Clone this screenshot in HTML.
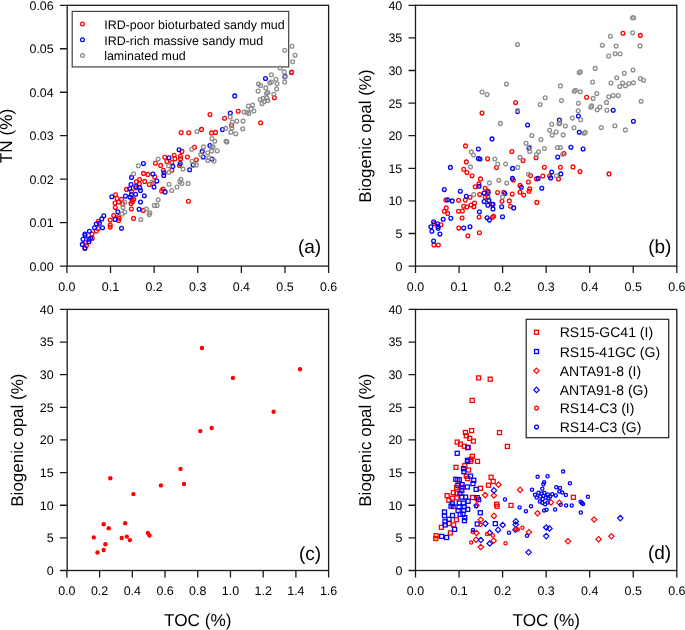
<!DOCTYPE html><html><head><meta charset="utf-8"><style>html,body{margin:0;padding:0;background:#fff;}svg{display:block;will-change:transform}text{font-family:"Liberation Sans", sans-serif;fill:#000;text-rendering:geometricPrecision} .tk{font-size:12.45px} .lab{font-size:17.2px} .pl{font-size:19.0px} .lg{font-size:12.45px} .lg2{font-size:14px}</style></head><body>
<svg width="685" height="630" viewBox="0 0 685 630">
<rect x="72.2" y="11.4" width="216.5" height="55.5" fill="none" stroke="#3a3a3a" stroke-width="1.15"/>
<circle cx="82.50" cy="23.90" r="1.9" fill="none" stroke="#ff0000" stroke-width="1.25"/>
<text x="104.20" y="28.60" class="lg">IRD-poor bioturbated sandy mud</text>
<circle cx="82.50" cy="39.80" r="1.9" fill="none" stroke="#0000ff" stroke-width="1.25"/>
<text x="104.20" y="44.50" class="lg">IRD-rich massive sandy mud</text>
<circle cx="82.50" cy="55.50" r="1.9" fill="none" stroke="#8c8c8c" stroke-width="1.25"/>
<text x="104.20" y="60.20" class="lg">laminated mud</text>
<rect x="526.2" y="319.3" width="142.5" height="118.4" fill="none" stroke="#222" stroke-width="1.2"/>
<rect x="534.50" y="330.30" width="4.0" height="4.0" fill="none" stroke="#ff0000" stroke-width="1.3"/>
<text x="559.70" y="337.30" class="lg2">RS15-GC41 (I)</text>
<rect x="534.50" y="349.50" width="4.0" height="4.0" fill="none" stroke="#0000ff" stroke-width="1.3"/>
<text x="559.70" y="356.50" class="lg2">RS15-41GC (G)</text>
<path d="M536.50 368.10L539.20 370.80L536.50 373.50L533.80 370.80Z" fill="none" stroke="#ff0000" stroke-width="1.2"/>
<text x="559.70" y="375.80" class="lg2">ANTA91-8 (I)</text>
<path d="M536.50 387.20L539.20 389.90L536.50 392.60L533.80 389.90Z" fill="none" stroke="#0000ff" stroke-width="1.2"/>
<text x="559.70" y="394.90" class="lg2">ANTA91-8 (G)</text>
<circle cx="536.50" cy="408.00" r="1.9" fill="none" stroke="#ff0000" stroke-width="1.3"/>
<text x="559.70" y="413.00" class="lg2">RS14-C3 (I)</text>
<circle cx="536.50" cy="427.10" r="1.9" fill="none" stroke="#0000ff" stroke-width="1.3"/>
<text x="559.70" y="432.10" class="lg2">RS14-C3 (G)</text>
<circle cx="98.30" cy="221.20" r="1.9" fill="none" stroke="#ff0000" stroke-width="1.3"/>
<circle cx="98.30" cy="228.50" r="1.9" fill="none" stroke="#ff0000" stroke-width="1.3"/>
<circle cx="96.30" cy="231.00" r="1.9" fill="none" stroke="#ff0000" stroke-width="1.3"/>
<circle cx="91.90" cy="234.10" r="1.9" fill="none" stroke="#ff0000" stroke-width="1.3"/>
<circle cx="85.80" cy="242.80" r="1.9" fill="none" stroke="#ff0000" stroke-width="1.3"/>
<circle cx="86.50" cy="245.60" r="1.9" fill="none" stroke="#ff0000" stroke-width="1.3"/>
<circle cx="84.90" cy="248.40" r="1.9" fill="none" stroke="#ff0000" stroke-width="1.3"/>
<circle cx="92.30" cy="238.30" r="1.9" fill="none" stroke="#ff0000" stroke-width="1.3"/>
<circle cx="110.20" cy="220.10" r="1.9" fill="none" stroke="#ff0000" stroke-width="1.3"/>
<circle cx="110.20" cy="225.00" r="1.9" fill="none" stroke="#ff0000" stroke-width="1.3"/>
<circle cx="110.20" cy="227.10" r="1.9" fill="none" stroke="#ff0000" stroke-width="1.3"/>
<circle cx="113.70" cy="215.60" r="1.9" fill="none" stroke="#ff0000" stroke-width="1.3"/>
<circle cx="118.60" cy="220.50" r="1.9" fill="none" stroke="#ff0000" stroke-width="1.3"/>
<circle cx="118.60" cy="216.60" r="1.9" fill="none" stroke="#ff0000" stroke-width="1.3"/>
<circle cx="126.50" cy="189.40" r="1.9" fill="none" stroke="#ff0000" stroke-width="1.3"/>
<circle cx="131.40" cy="191.20" r="1.9" fill="none" stroke="#ff0000" stroke-width="1.3"/>
<circle cx="115.50" cy="194.70" r="1.9" fill="none" stroke="#ff0000" stroke-width="1.3"/>
<circle cx="117.10" cy="198.50" r="1.9" fill="none" stroke="#ff0000" stroke-width="1.3"/>
<circle cx="121.60" cy="199.20" r="1.9" fill="none" stroke="#ff0000" stroke-width="1.3"/>
<circle cx="115.00" cy="203.00" r="1.9" fill="none" stroke="#ff0000" stroke-width="1.3"/>
<circle cx="118.50" cy="202.00" r="1.9" fill="none" stroke="#ff0000" stroke-width="1.3"/>
<circle cx="122.70" cy="204.10" r="1.9" fill="none" stroke="#ff0000" stroke-width="1.3"/>
<circle cx="132.10" cy="199.90" r="1.9" fill="none" stroke="#ff0000" stroke-width="1.3"/>
<circle cx="133.80" cy="199.20" r="1.9" fill="none" stroke="#ff0000" stroke-width="1.3"/>
<circle cx="131.00" cy="203.40" r="1.9" fill="none" stroke="#ff0000" stroke-width="1.3"/>
<circle cx="132.40" cy="201.70" r="1.9" fill="none" stroke="#ff0000" stroke-width="1.3"/>
<circle cx="115.30" cy="207.60" r="1.9" fill="none" stroke="#ff0000" stroke-width="1.3"/>
<circle cx="131.40" cy="209.00" r="1.9" fill="none" stroke="#ff0000" stroke-width="1.3"/>
<circle cx="143.30" cy="210.40" r="1.9" fill="none" stroke="#ff0000" stroke-width="1.3"/>
<circle cx="119.20" cy="218.30" r="1.9" fill="none" stroke="#ff0000" stroke-width="1.3"/>
<circle cx="133.50" cy="218.40" r="1.9" fill="none" stroke="#ff0000" stroke-width="1.3"/>
<circle cx="136.30" cy="181.70" r="1.9" fill="none" stroke="#ff0000" stroke-width="1.3"/>
<circle cx="139.40" cy="183.80" r="1.9" fill="none" stroke="#ff0000" stroke-width="1.3"/>
<circle cx="144.70" cy="181.40" r="1.9" fill="none" stroke="#ff0000" stroke-width="1.3"/>
<circle cx="149.20" cy="184.50" r="1.9" fill="none" stroke="#ff0000" stroke-width="1.3"/>
<circle cx="135.90" cy="188.00" r="1.9" fill="none" stroke="#ff0000" stroke-width="1.3"/>
<circle cx="155.40" cy="163.30" r="1.9" fill="none" stroke="#ff0000" stroke-width="1.3"/>
<circle cx="160.60" cy="165.40" r="1.9" fill="none" stroke="#ff0000" stroke-width="1.3"/>
<circle cx="164.80" cy="157.30" r="1.9" fill="none" stroke="#ff0000" stroke-width="1.3"/>
<circle cx="166.90" cy="161.50" r="1.9" fill="none" stroke="#ff0000" stroke-width="1.3"/>
<circle cx="171.80" cy="162.60" r="1.9" fill="none" stroke="#ff0000" stroke-width="1.3"/>
<circle cx="174.20" cy="155.20" r="1.9" fill="none" stroke="#ff0000" stroke-width="1.3"/>
<circle cx="174.90" cy="158.70" r="1.9" fill="none" stroke="#ff0000" stroke-width="1.3"/>
<circle cx="180.50" cy="156.30" r="1.9" fill="none" stroke="#ff0000" stroke-width="1.3"/>
<circle cx="180.50" cy="158.70" r="1.9" fill="none" stroke="#ff0000" stroke-width="1.3"/>
<circle cx="181.90" cy="151.40" r="1.9" fill="none" stroke="#ff0000" stroke-width="1.3"/>
<circle cx="179.50" cy="165.40" r="1.9" fill="none" stroke="#ff0000" stroke-width="1.3"/>
<circle cx="163.40" cy="170.30" r="1.9" fill="none" stroke="#ff0000" stroke-width="1.3"/>
<circle cx="171.80" cy="170.30" r="1.9" fill="none" stroke="#ff0000" stroke-width="1.3"/>
<circle cx="143.50" cy="173.40" r="1.9" fill="none" stroke="#ff0000" stroke-width="1.3"/>
<circle cx="148.00" cy="174.40" r="1.9" fill="none" stroke="#ff0000" stroke-width="1.3"/>
<circle cx="154.70" cy="176.90" r="1.9" fill="none" stroke="#ff0000" stroke-width="1.3"/>
<circle cx="153.30" cy="183.50" r="1.9" fill="none" stroke="#ff0000" stroke-width="1.3"/>
<circle cx="139.60" cy="179.60" r="1.9" fill="none" stroke="#ff0000" stroke-width="1.3"/>
<circle cx="163.00" cy="189.10" r="1.9" fill="none" stroke="#ff0000" stroke-width="1.3"/>
<circle cx="161.70" cy="190.90" r="1.9" fill="none" stroke="#ff0000" stroke-width="1.3"/>
<circle cx="181.20" cy="132.60" r="1.9" fill="none" stroke="#ff0000" stroke-width="1.3"/>
<circle cx="188.70" cy="132.70" r="1.9" fill="none" stroke="#ff0000" stroke-width="1.3"/>
<circle cx="201.50" cy="129.40" r="1.9" fill="none" stroke="#ff0000" stroke-width="1.3"/>
<circle cx="211.60" cy="132.90" r="1.9" fill="none" stroke="#ff0000" stroke-width="1.3"/>
<circle cx="215.50" cy="132.40" r="1.9" fill="none" stroke="#ff0000" stroke-width="1.3"/>
<circle cx="194.50" cy="147.20" r="1.9" fill="none" stroke="#ff0000" stroke-width="1.3"/>
<circle cx="187.50" cy="157.00" r="1.9" fill="none" stroke="#ff0000" stroke-width="1.3"/>
<circle cx="196.30" cy="159.80" r="1.9" fill="none" stroke="#ff0000" stroke-width="1.3"/>
<circle cx="188.40" cy="201.30" r="1.9" fill="none" stroke="#ff0000" stroke-width="1.3"/>
<circle cx="238.20" cy="111.30" r="1.9" fill="none" stroke="#ff0000" stroke-width="1.3"/>
<circle cx="224.60" cy="118.30" r="1.9" fill="none" stroke="#ff0000" stroke-width="1.3"/>
<circle cx="231.60" cy="125.30" r="1.9" fill="none" stroke="#ff0000" stroke-width="1.3"/>
<circle cx="210.00" cy="114.50" r="1.9" fill="none" stroke="#ff0000" stroke-width="1.3"/>
<circle cx="274.40" cy="97.70" r="1.9" fill="none" stroke="#ff0000" stroke-width="1.3"/>
<circle cx="260.60" cy="122.70" r="1.9" fill="none" stroke="#ff0000" stroke-width="1.3"/>
<circle cx="103.80" cy="215.70" r="1.9" fill="none" stroke="#0000ff" stroke-width="1.3"/>
<circle cx="101.80" cy="218.90" r="1.9" fill="none" stroke="#0000ff" stroke-width="1.3"/>
<circle cx="99.40" cy="223.30" r="1.9" fill="none" stroke="#0000ff" stroke-width="1.3"/>
<circle cx="96.30" cy="224.00" r="1.9" fill="none" stroke="#0000ff" stroke-width="1.3"/>
<circle cx="94.50" cy="227.80" r="1.9" fill="none" stroke="#0000ff" stroke-width="1.3"/>
<circle cx="102.50" cy="227.80" r="1.9" fill="none" stroke="#0000ff" stroke-width="1.3"/>
<circle cx="89.40" cy="231.30" r="1.9" fill="none" stroke="#0000ff" stroke-width="1.3"/>
<circle cx="84.90" cy="234.10" r="1.9" fill="none" stroke="#0000ff" stroke-width="1.3"/>
<circle cx="85.10" cy="235.50" r="1.9" fill="none" stroke="#0000ff" stroke-width="1.3"/>
<circle cx="83.00" cy="239.20" r="1.9" fill="none" stroke="#0000ff" stroke-width="1.3"/>
<circle cx="90.70" cy="238.30" r="1.9" fill="none" stroke="#0000ff" stroke-width="1.3"/>
<circle cx="88.90" cy="239.30" r="1.9" fill="none" stroke="#0000ff" stroke-width="1.3"/>
<circle cx="88.90" cy="241.80" r="1.9" fill="none" stroke="#0000ff" stroke-width="1.3"/>
<circle cx="82.30" cy="244.40" r="1.9" fill="none" stroke="#0000ff" stroke-width="1.3"/>
<circle cx="84.90" cy="248.10" r="1.9" fill="none" stroke="#0000ff" stroke-width="1.3"/>
<circle cx="117.80" cy="211.70" r="1.9" fill="none" stroke="#0000ff" stroke-width="1.3"/>
<circle cx="115.10" cy="219.40" r="1.9" fill="none" stroke="#0000ff" stroke-width="1.3"/>
<circle cx="121.50" cy="228.20" r="1.9" fill="none" stroke="#0000ff" stroke-width="1.3"/>
<circle cx="131.00" cy="184.50" r="1.9" fill="none" stroke="#0000ff" stroke-width="1.3"/>
<circle cx="129.80" cy="188.70" r="1.9" fill="none" stroke="#0000ff" stroke-width="1.3"/>
<circle cx="135.80" cy="186.60" r="1.9" fill="none" stroke="#0000ff" stroke-width="1.3"/>
<circle cx="139.80" cy="187.70" r="1.9" fill="none" stroke="#0000ff" stroke-width="1.3"/>
<circle cx="140.50" cy="190.50" r="1.9" fill="none" stroke="#0000ff" stroke-width="1.3"/>
<circle cx="111.80" cy="196.80" r="1.9" fill="none" stroke="#0000ff" stroke-width="1.3"/>
<circle cx="125.50" cy="196.10" r="1.9" fill="none" stroke="#0000ff" stroke-width="1.3"/>
<circle cx="131.40" cy="194.70" r="1.9" fill="none" stroke="#0000ff" stroke-width="1.3"/>
<circle cx="130.00" cy="197.10" r="1.9" fill="none" stroke="#0000ff" stroke-width="1.3"/>
<circle cx="135.60" cy="194.30" r="1.9" fill="none" stroke="#0000ff" stroke-width="1.3"/>
<circle cx="144.30" cy="195.70" r="1.9" fill="none" stroke="#0000ff" stroke-width="1.3"/>
<circle cx="140.50" cy="202.00" r="1.9" fill="none" stroke="#0000ff" stroke-width="1.3"/>
<circle cx="139.10" cy="209.30" r="1.9" fill="none" stroke="#0000ff" stroke-width="1.3"/>
<circle cx="143.40" cy="163.60" r="1.9" fill="none" stroke="#0000ff" stroke-width="1.3"/>
<circle cx="169.00" cy="157.70" r="1.9" fill="none" stroke="#0000ff" stroke-width="1.3"/>
<circle cx="172.80" cy="166.40" r="1.9" fill="none" stroke="#0000ff" stroke-width="1.3"/>
<circle cx="180.20" cy="163.60" r="1.9" fill="none" stroke="#0000ff" stroke-width="1.3"/>
<circle cx="164.10" cy="172.70" r="1.9" fill="none" stroke="#0000ff" stroke-width="1.3"/>
<circle cx="163.70" cy="175.50" r="1.9" fill="none" stroke="#0000ff" stroke-width="1.3"/>
<circle cx="152.90" cy="174.10" r="1.9" fill="none" stroke="#0000ff" stroke-width="1.3"/>
<circle cx="156.80" cy="181.10" r="1.9" fill="none" stroke="#0000ff" stroke-width="1.3"/>
<circle cx="154.00" cy="187.00" r="1.9" fill="none" stroke="#0000ff" stroke-width="1.3"/>
<circle cx="165.10" cy="191.90" r="1.9" fill="none" stroke="#0000ff" stroke-width="1.3"/>
<circle cx="179.10" cy="149.80" r="1.9" fill="none" stroke="#0000ff" stroke-width="1.3"/>
<circle cx="131.60" cy="177.40" r="1.9" fill="none" stroke="#0000ff" stroke-width="1.3"/>
<circle cx="209.90" cy="145.50" r="1.9" fill="none" stroke="#0000ff" stroke-width="1.3"/>
<circle cx="202.20" cy="151.40" r="1.9" fill="none" stroke="#0000ff" stroke-width="1.3"/>
<circle cx="203.20" cy="157.00" r="1.9" fill="none" stroke="#0000ff" stroke-width="1.3"/>
<circle cx="212.00" cy="159.10" r="1.9" fill="none" stroke="#0000ff" stroke-width="1.3"/>
<circle cx="193.10" cy="165.00" r="1.9" fill="none" stroke="#0000ff" stroke-width="1.3"/>
<circle cx="189.60" cy="169.80" r="1.9" fill="none" stroke="#0000ff" stroke-width="1.3"/>
<circle cx="234.70" cy="95.90" r="1.9" fill="none" stroke="#0000ff" stroke-width="1.3"/>
<circle cx="230.30" cy="113.00" r="1.9" fill="none" stroke="#0000ff" stroke-width="1.3"/>
<circle cx="222.50" cy="129.50" r="1.9" fill="none" stroke="#0000ff" stroke-width="1.3"/>
<circle cx="285.00" cy="76.40" r="1.9" fill="none" stroke="#0000ff" stroke-width="1.3"/>
<circle cx="265.50" cy="78.50" r="1.9" fill="none" stroke="#0000ff" stroke-width="1.3"/>
<circle cx="124.80" cy="202.30" r="1.9" fill="none" stroke="#8c8c8c" stroke-width="1.3"/>
<circle cx="123.00" cy="207.60" r="1.9" fill="none" stroke="#8c8c8c" stroke-width="1.3"/>
<circle cx="124.80" cy="212.10" r="1.9" fill="none" stroke="#8c8c8c" stroke-width="1.3"/>
<circle cx="122.00" cy="213.90" r="1.9" fill="none" stroke="#8c8c8c" stroke-width="1.3"/>
<circle cx="146.40" cy="209.00" r="1.9" fill="none" stroke="#8c8c8c" stroke-width="1.3"/>
<circle cx="149.90" cy="212.80" r="1.9" fill="none" stroke="#8c8c8c" stroke-width="1.3"/>
<circle cx="149.20" cy="214.60" r="1.9" fill="none" stroke="#8c8c8c" stroke-width="1.3"/>
<circle cx="140.80" cy="219.50" r="1.9" fill="none" stroke="#8c8c8c" stroke-width="1.3"/>
<circle cx="158.20" cy="159.10" r="1.9" fill="none" stroke="#8c8c8c" stroke-width="1.3"/>
<circle cx="168.60" cy="165.70" r="1.9" fill="none" stroke="#8c8c8c" stroke-width="1.3"/>
<circle cx="169.00" cy="172.30" r="1.9" fill="none" stroke="#8c8c8c" stroke-width="1.3"/>
<circle cx="151.90" cy="182.10" r="1.9" fill="none" stroke="#8c8c8c" stroke-width="1.3"/>
<circle cx="169.00" cy="184.20" r="1.9" fill="none" stroke="#8c8c8c" stroke-width="1.3"/>
<circle cx="177.00" cy="187.00" r="1.9" fill="none" stroke="#8c8c8c" stroke-width="1.3"/>
<circle cx="171.80" cy="190.50" r="1.9" fill="none" stroke="#8c8c8c" stroke-width="1.3"/>
<circle cx="180.90" cy="179.30" r="1.9" fill="none" stroke="#8c8c8c" stroke-width="1.3"/>
<circle cx="179.80" cy="181.80" r="1.9" fill="none" stroke="#8c8c8c" stroke-width="1.3"/>
<circle cx="181.90" cy="183.50" r="1.9" fill="none" stroke="#8c8c8c" stroke-width="1.3"/>
<circle cx="183.00" cy="168.90" r="1.9" fill="none" stroke="#8c8c8c" stroke-width="1.3"/>
<circle cx="138.30" cy="165.70" r="1.9" fill="none" stroke="#8c8c8c" stroke-width="1.3"/>
<circle cx="133.60" cy="173.70" r="1.9" fill="none" stroke="#8c8c8c" stroke-width="1.3"/>
<circle cx="197.00" cy="131.50" r="1.9" fill="none" stroke="#8c8c8c" stroke-width="1.3"/>
<circle cx="212.00" cy="138.50" r="1.9" fill="none" stroke="#8c8c8c" stroke-width="1.3"/>
<circle cx="214.80" cy="141.30" r="1.9" fill="none" stroke="#8c8c8c" stroke-width="1.3"/>
<circle cx="203.60" cy="146.90" r="1.9" fill="none" stroke="#8c8c8c" stroke-width="1.3"/>
<circle cx="191.70" cy="149.30" r="1.9" fill="none" stroke="#8c8c8c" stroke-width="1.3"/>
<circle cx="211.30" cy="147.20" r="1.9" fill="none" stroke="#8c8c8c" stroke-width="1.3"/>
<circle cx="213.00" cy="146.90" r="1.9" fill="none" stroke="#8c8c8c" stroke-width="1.3"/>
<circle cx="211.60" cy="151.10" r="1.9" fill="none" stroke="#8c8c8c" stroke-width="1.3"/>
<circle cx="217.20" cy="150.70" r="1.9" fill="none" stroke="#8c8c8c" stroke-width="1.3"/>
<circle cx="207.80" cy="152.80" r="1.9" fill="none" stroke="#8c8c8c" stroke-width="1.3"/>
<circle cx="200.80" cy="154.60" r="1.9" fill="none" stroke="#8c8c8c" stroke-width="1.3"/>
<circle cx="208.80" cy="157.70" r="1.9" fill="none" stroke="#8c8c8c" stroke-width="1.3"/>
<circle cx="207.80" cy="160.50" r="1.9" fill="none" stroke="#8c8c8c" stroke-width="1.3"/>
<circle cx="214.10" cy="160.90" r="1.9" fill="none" stroke="#8c8c8c" stroke-width="1.3"/>
<circle cx="192.10" cy="161.20" r="1.9" fill="none" stroke="#8c8c8c" stroke-width="1.3"/>
<circle cx="196.30" cy="164.90" r="1.9" fill="none" stroke="#8c8c8c" stroke-width="1.3"/>
<circle cx="188.20" cy="183.40" r="1.9" fill="none" stroke="#8c8c8c" stroke-width="1.3"/>
<circle cx="158.20" cy="199.80" r="1.9" fill="none" stroke="#8c8c8c" stroke-width="1.3"/>
<circle cx="154.30" cy="205.40" r="1.9" fill="none" stroke="#8c8c8c" stroke-width="1.3"/>
<circle cx="157.10" cy="205.40" r="1.9" fill="none" stroke="#8c8c8c" stroke-width="1.3"/>
<circle cx="248.30" cy="106.10" r="1.9" fill="none" stroke="#8c8c8c" stroke-width="1.3"/>
<circle cx="252.60" cy="105.00" r="1.9" fill="none" stroke="#8c8c8c" stroke-width="1.3"/>
<circle cx="251.10" cy="108.90" r="1.9" fill="none" stroke="#8c8c8c" stroke-width="1.3"/>
<circle cx="253.90" cy="111.00" r="1.9" fill="none" stroke="#8c8c8c" stroke-width="1.3"/>
<circle cx="244.10" cy="112.00" r="1.9" fill="none" stroke="#8c8c8c" stroke-width="1.3"/>
<circle cx="246.90" cy="112.30" r="1.9" fill="none" stroke="#8c8c8c" stroke-width="1.3"/>
<circle cx="248.70" cy="113.40" r="1.9" fill="none" stroke="#8c8c8c" stroke-width="1.3"/>
<circle cx="230.20" cy="116.90" r="1.9" fill="none" stroke="#8c8c8c" stroke-width="1.3"/>
<circle cx="232.30" cy="122.10" r="1.9" fill="none" stroke="#8c8c8c" stroke-width="1.3"/>
<circle cx="236.80" cy="121.10" r="1.9" fill="none" stroke="#8c8c8c" stroke-width="1.3"/>
<circle cx="243.10" cy="121.10" r="1.9" fill="none" stroke="#8c8c8c" stroke-width="1.3"/>
<circle cx="231.90" cy="128.10" r="1.9" fill="none" stroke="#8c8c8c" stroke-width="1.3"/>
<circle cx="225.60" cy="128.40" r="1.9" fill="none" stroke="#8c8c8c" stroke-width="1.3"/>
<circle cx="242.70" cy="128.80" r="1.9" fill="none" stroke="#8c8c8c" stroke-width="1.3"/>
<circle cx="230.90" cy="132.30" r="1.9" fill="none" stroke="#8c8c8c" stroke-width="1.3"/>
<circle cx="235.70" cy="133.80" r="1.9" fill="none" stroke="#8c8c8c" stroke-width="1.3"/>
<circle cx="226.00" cy="141.20" r="1.9" fill="none" stroke="#8c8c8c" stroke-width="1.3"/>
<circle cx="227.00" cy="141.90" r="1.9" fill="none" stroke="#8c8c8c" stroke-width="1.3"/>
<circle cx="280.10" cy="68.00" r="1.9" fill="none" stroke="#8c8c8c" stroke-width="1.3"/>
<circle cx="284.30" cy="71.90" r="1.9" fill="none" stroke="#8c8c8c" stroke-width="1.3"/>
<circle cx="284.70" cy="77.10" r="1.9" fill="none" stroke="#8c8c8c" stroke-width="1.3"/>
<circle cx="284.70" cy="82.00" r="1.9" fill="none" stroke="#8c8c8c" stroke-width="1.3"/>
<circle cx="271.40" cy="74.70" r="1.9" fill="none" stroke="#8c8c8c" stroke-width="1.3"/>
<circle cx="275.90" cy="79.20" r="1.9" fill="none" stroke="#8c8c8c" stroke-width="1.3"/>
<circle cx="269.70" cy="83.00" r="1.9" fill="none" stroke="#8c8c8c" stroke-width="1.3"/>
<circle cx="271.40" cy="82.00" r="1.9" fill="none" stroke="#8c8c8c" stroke-width="1.3"/>
<circle cx="277.00" cy="83.70" r="1.9" fill="none" stroke="#8c8c8c" stroke-width="1.3"/>
<circle cx="258.50" cy="84.10" r="1.9" fill="none" stroke="#8c8c8c" stroke-width="1.3"/>
<circle cx="260.60" cy="85.50" r="1.9" fill="none" stroke="#8c8c8c" stroke-width="1.3"/>
<circle cx="265.80" cy="87.90" r="1.9" fill="none" stroke="#8c8c8c" stroke-width="1.3"/>
<circle cx="276.60" cy="89.00" r="1.9" fill="none" stroke="#8c8c8c" stroke-width="1.3"/>
<circle cx="258.10" cy="91.10" r="1.9" fill="none" stroke="#8c8c8c" stroke-width="1.3"/>
<circle cx="267.90" cy="92.50" r="1.9" fill="none" stroke="#8c8c8c" stroke-width="1.3"/>
<circle cx="266.50" cy="93.50" r="1.9" fill="none" stroke="#8c8c8c" stroke-width="1.3"/>
<circle cx="273.80" cy="94.20" r="1.9" fill="none" stroke="#8c8c8c" stroke-width="1.3"/>
<circle cx="260.20" cy="99.50" r="1.9" fill="none" stroke="#8c8c8c" stroke-width="1.3"/>
<circle cx="263.00" cy="98.40" r="1.9" fill="none" stroke="#8c8c8c" stroke-width="1.3"/>
<circle cx="266.90" cy="98.10" r="1.9" fill="none" stroke="#8c8c8c" stroke-width="1.3"/>
<circle cx="267.90" cy="100.50" r="1.9" fill="none" stroke="#8c8c8c" stroke-width="1.3"/>
<circle cx="264.40" cy="101.60" r="1.9" fill="none" stroke="#8c8c8c" stroke-width="1.3"/>
<circle cx="262.00" cy="103.60" r="1.9" fill="none" stroke="#8c8c8c" stroke-width="1.3"/>
<circle cx="292.00" cy="46.30" r="1.9" fill="none" stroke="#8c8c8c" stroke-width="1.3"/>
<circle cx="295.00" cy="55.30" r="1.9" fill="none" stroke="#8c8c8c" stroke-width="1.3"/>
<circle cx="284.70" cy="50.30" r="1.9" fill="none" stroke="#8c8c8c" stroke-width="1.3"/>
<circle cx="292.70" cy="61.70" r="1.9" fill="none" stroke="#8c8c8c" stroke-width="1.3"/>
<circle cx="291.70" cy="72.00" r="1.9" fill="none" stroke="#8c8c8c" stroke-width="1.3"/>
<circle cx="291.50" cy="72.40" r="1.9" fill="none" stroke="#ff0000" stroke-width="1.3"/>
<circle cx="433.90" cy="245.00" r="1.9" fill="none" stroke="#ff0000" stroke-width="1.3"/>
<circle cx="438.30" cy="245.00" r="1.9" fill="none" stroke="#ff0000" stroke-width="1.3"/>
<circle cx="441.00" cy="224.70" r="1.9" fill="none" stroke="#ff0000" stroke-width="1.3"/>
<circle cx="434.20" cy="223.60" r="1.9" fill="none" stroke="#ff0000" stroke-width="1.3"/>
<circle cx="446.20" cy="207.90" r="1.9" fill="none" stroke="#ff0000" stroke-width="1.3"/>
<circle cx="444.30" cy="211.30" r="1.9" fill="none" stroke="#ff0000" stroke-width="1.3"/>
<circle cx="447.70" cy="213.40" r="1.9" fill="none" stroke="#ff0000" stroke-width="1.3"/>
<circle cx="458.50" cy="211.30" r="1.9" fill="none" stroke="#ff0000" stroke-width="1.3"/>
<circle cx="462.40" cy="211.00" r="1.9" fill="none" stroke="#ff0000" stroke-width="1.3"/>
<circle cx="463.70" cy="206.30" r="1.9" fill="none" stroke="#ff0000" stroke-width="1.3"/>
<circle cx="466.90" cy="207.10" r="1.9" fill="none" stroke="#ff0000" stroke-width="1.3"/>
<circle cx="471.00" cy="205.00" r="1.9" fill="none" stroke="#ff0000" stroke-width="1.3"/>
<circle cx="474.50" cy="203.10" r="1.9" fill="none" stroke="#ff0000" stroke-width="1.3"/>
<circle cx="473.90" cy="206.80" r="1.9" fill="none" stroke="#ff0000" stroke-width="1.3"/>
<circle cx="462.10" cy="218.00" r="1.9" fill="none" stroke="#ff0000" stroke-width="1.3"/>
<circle cx="458.80" cy="228.10" r="1.9" fill="none" stroke="#ff0000" stroke-width="1.3"/>
<circle cx="467.90" cy="235.80" r="1.9" fill="none" stroke="#ff0000" stroke-width="1.3"/>
<circle cx="479.10" cy="217.00" r="1.9" fill="none" stroke="#ff0000" stroke-width="1.3"/>
<circle cx="479.40" cy="232.70" r="1.9" fill="none" stroke="#ff0000" stroke-width="1.3"/>
<circle cx="458.60" cy="200.20" r="1.9" fill="none" stroke="#ff0000" stroke-width="1.3"/>
<circle cx="465.30" cy="200.10" r="1.9" fill="none" stroke="#ff0000" stroke-width="1.3"/>
<circle cx="445.90" cy="200.10" r="1.9" fill="none" stroke="#ff0000" stroke-width="1.3"/>
<circle cx="465.50" cy="145.90" r="1.9" fill="none" stroke="#ff0000" stroke-width="1.3"/>
<circle cx="466.30" cy="161.90" r="1.9" fill="none" stroke="#ff0000" stroke-width="1.3"/>
<circle cx="463.70" cy="169.30" r="1.9" fill="none" stroke="#ff0000" stroke-width="1.3"/>
<circle cx="466.90" cy="172.60" r="1.9" fill="none" stroke="#ff0000" stroke-width="1.3"/>
<circle cx="472.10" cy="175.80" r="1.9" fill="none" stroke="#ff0000" stroke-width="1.3"/>
<circle cx="480.50" cy="178.90" r="1.9" fill="none" stroke="#ff0000" stroke-width="1.3"/>
<circle cx="478.90" cy="183.90" r="1.9" fill="none" stroke="#ff0000" stroke-width="1.3"/>
<circle cx="475.20" cy="186.80" r="1.9" fill="none" stroke="#ff0000" stroke-width="1.3"/>
<circle cx="479.70" cy="194.60" r="1.9" fill="none" stroke="#ff0000" stroke-width="1.3"/>
<circle cx="470.00" cy="197.20" r="1.9" fill="none" stroke="#ff0000" stroke-width="1.3"/>
<circle cx="511.90" cy="151.50" r="1.9" fill="none" stroke="#ff0000" stroke-width="1.3"/>
<circle cx="487.50" cy="158.80" r="1.9" fill="none" stroke="#ff0000" stroke-width="1.3"/>
<circle cx="496.50" cy="167.60" r="1.9" fill="none" stroke="#ff0000" stroke-width="1.3"/>
<circle cx="523.10" cy="160.60" r="1.9" fill="none" stroke="#ff0000" stroke-width="1.3"/>
<circle cx="536.00" cy="157.70" r="1.9" fill="none" stroke="#ff0000" stroke-width="1.3"/>
<circle cx="544.40" cy="167.20" r="1.9" fill="none" stroke="#ff0000" stroke-width="1.3"/>
<circle cx="542.80" cy="176.00" r="1.9" fill="none" stroke="#ff0000" stroke-width="1.3"/>
<circle cx="530.50" cy="175.60" r="1.9" fill="none" stroke="#ff0000" stroke-width="1.3"/>
<circle cx="513.30" cy="180.00" r="1.9" fill="none" stroke="#ff0000" stroke-width="1.3"/>
<circle cx="528.40" cy="182.00" r="1.9" fill="none" stroke="#ff0000" stroke-width="1.3"/>
<circle cx="520.00" cy="185.40" r="1.9" fill="none" stroke="#ff0000" stroke-width="1.3"/>
<circle cx="529.70" cy="188.90" r="1.9" fill="none" stroke="#ff0000" stroke-width="1.3"/>
<circle cx="529.00" cy="191.30" r="1.9" fill="none" stroke="#ff0000" stroke-width="1.3"/>
<circle cx="520.00" cy="192.30" r="1.9" fill="none" stroke="#ff0000" stroke-width="1.3"/>
<circle cx="523.70" cy="195.10" r="1.9" fill="none" stroke="#ff0000" stroke-width="1.3"/>
<circle cx="512.20" cy="194.10" r="1.9" fill="none" stroke="#ff0000" stroke-width="1.3"/>
<circle cx="497.60" cy="192.50" r="1.9" fill="none" stroke="#ff0000" stroke-width="1.3"/>
<circle cx="503.80" cy="192.30" r="1.9" fill="none" stroke="#ff0000" stroke-width="1.3"/>
<circle cx="485.20" cy="188.30" r="1.9" fill="none" stroke="#ff0000" stroke-width="1.3"/>
<circle cx="487.80" cy="191.00" r="1.9" fill="none" stroke="#ff0000" stroke-width="1.3"/>
<circle cx="485.20" cy="197.20" r="1.9" fill="none" stroke="#ff0000" stroke-width="1.3"/>
<circle cx="487.80" cy="197.20" r="1.9" fill="none" stroke="#ff0000" stroke-width="1.3"/>
<circle cx="502.00" cy="201.20" r="1.9" fill="none" stroke="#ff0000" stroke-width="1.3"/>
<circle cx="509.30" cy="200.90" r="1.9" fill="none" stroke="#ff0000" stroke-width="1.3"/>
<circle cx="536.80" cy="202.40" r="1.9" fill="none" stroke="#ff0000" stroke-width="1.3"/>
<circle cx="536.50" cy="178.90" r="1.9" fill="none" stroke="#ff0000" stroke-width="1.3"/>
<circle cx="492.00" cy="204.20" r="1.9" fill="none" stroke="#ff0000" stroke-width="1.3"/>
<circle cx="510.50" cy="206.30" r="1.9" fill="none" stroke="#ff0000" stroke-width="1.3"/>
<circle cx="492.50" cy="217.30" r="1.9" fill="none" stroke="#ff0000" stroke-width="1.3"/>
<circle cx="493.60" cy="216.20" r="1.9" fill="none" stroke="#ff0000" stroke-width="1.3"/>
<circle cx="515.60" cy="102.60" r="1.9" fill="none" stroke="#ff0000" stroke-width="1.3"/>
<circle cx="482.00" cy="113.10" r="1.9" fill="none" stroke="#ff0000" stroke-width="1.3"/>
<circle cx="623.00" cy="33.30" r="1.9" fill="none" stroke="#ff0000" stroke-width="1.3"/>
<circle cx="640.40" cy="35.40" r="1.9" fill="none" stroke="#ff0000" stroke-width="1.3"/>
<circle cx="586.60" cy="97.20" r="1.9" fill="none" stroke="#ff0000" stroke-width="1.3"/>
<circle cx="564.00" cy="153.60" r="1.9" fill="none" stroke="#ff0000" stroke-width="1.3"/>
<circle cx="560.40" cy="167.20" r="1.9" fill="none" stroke="#ff0000" stroke-width="1.3"/>
<circle cx="573.00" cy="166.90" r="1.9" fill="none" stroke="#ff0000" stroke-width="1.3"/>
<circle cx="580.00" cy="171.60" r="1.9" fill="none" stroke="#ff0000" stroke-width="1.3"/>
<circle cx="609.00" cy="173.90" r="1.9" fill="none" stroke="#ff0000" stroke-width="1.3"/>
<circle cx="549.60" cy="176.00" r="1.9" fill="none" stroke="#ff0000" stroke-width="1.3"/>
<circle cx="558.50" cy="178.90" r="1.9" fill="none" stroke="#ff0000" stroke-width="1.3"/>
<circle cx="433.60" cy="221.80" r="1.9" fill="none" stroke="#0000ff" stroke-width="1.3"/>
<circle cx="437.60" cy="223.80" r="1.9" fill="none" stroke="#0000ff" stroke-width="1.3"/>
<circle cx="438.00" cy="226.40" r="1.9" fill="none" stroke="#0000ff" stroke-width="1.3"/>
<circle cx="438.10" cy="228.30" r="1.9" fill="none" stroke="#0000ff" stroke-width="1.3"/>
<circle cx="430.90" cy="226.80" r="1.9" fill="none" stroke="#0000ff" stroke-width="1.3"/>
<circle cx="431.90" cy="231.20" r="1.9" fill="none" stroke="#0000ff" stroke-width="1.3"/>
<circle cx="439.90" cy="234.10" r="1.9" fill="none" stroke="#0000ff" stroke-width="1.3"/>
<circle cx="433.60" cy="241.10" r="1.9" fill="none" stroke="#0000ff" stroke-width="1.3"/>
<circle cx="443.20" cy="219.20" r="1.9" fill="none" stroke="#0000ff" stroke-width="1.3"/>
<circle cx="450.80" cy="218.30" r="1.9" fill="none" stroke="#0000ff" stroke-width="1.3"/>
<circle cx="463.70" cy="228.10" r="1.9" fill="none" stroke="#0000ff" stroke-width="1.3"/>
<circle cx="470.00" cy="226.70" r="1.9" fill="none" stroke="#0000ff" stroke-width="1.3"/>
<circle cx="479.40" cy="211.70" r="1.9" fill="none" stroke="#0000ff" stroke-width="1.3"/>
<circle cx="452.20" cy="200.90" r="1.9" fill="none" stroke="#0000ff" stroke-width="1.3"/>
<circle cx="447.60" cy="199.80" r="1.9" fill="none" stroke="#0000ff" stroke-width="1.3"/>
<circle cx="478.40" cy="149.00" r="1.9" fill="none" stroke="#0000ff" stroke-width="1.3"/>
<circle cx="478.40" cy="158.50" r="1.9" fill="none" stroke="#0000ff" stroke-width="1.3"/>
<circle cx="480.00" cy="159.00" r="1.9" fill="none" stroke="#0000ff" stroke-width="1.3"/>
<circle cx="450.40" cy="167.40" r="1.9" fill="none" stroke="#0000ff" stroke-width="1.3"/>
<circle cx="444.30" cy="189.60" r="1.9" fill="none" stroke="#0000ff" stroke-width="1.3"/>
<circle cx="460.30" cy="191.30" r="1.9" fill="none" stroke="#0000ff" stroke-width="1.3"/>
<circle cx="466.30" cy="196.20" r="1.9" fill="none" stroke="#0000ff" stroke-width="1.3"/>
<circle cx="479.10" cy="186.20" r="1.9" fill="none" stroke="#0000ff" stroke-width="1.3"/>
<circle cx="492.00" cy="138.90" r="1.9" fill="none" stroke="#0000ff" stroke-width="1.3"/>
<circle cx="529.00" cy="148.00" r="1.9" fill="none" stroke="#0000ff" stroke-width="1.3"/>
<circle cx="512.60" cy="168.40" r="1.9" fill="none" stroke="#0000ff" stroke-width="1.3"/>
<circle cx="512.40" cy="178.40" r="1.9" fill="none" stroke="#0000ff" stroke-width="1.3"/>
<circle cx="538.10" cy="178.40" r="1.9" fill="none" stroke="#0000ff" stroke-width="1.3"/>
<circle cx="521.30" cy="187.30" r="1.9" fill="none" stroke="#0000ff" stroke-width="1.3"/>
<circle cx="541.80" cy="188.30" r="1.9" fill="none" stroke="#0000ff" stroke-width="1.3"/>
<circle cx="484.10" cy="193.10" r="1.9" fill="none" stroke="#0000ff" stroke-width="1.3"/>
<circle cx="488.30" cy="192.50" r="1.9" fill="none" stroke="#0000ff" stroke-width="1.3"/>
<circle cx="504.90" cy="193.60" r="1.9" fill="none" stroke="#0000ff" stroke-width="1.3"/>
<circle cx="488.90" cy="200.40" r="1.9" fill="none" stroke="#0000ff" stroke-width="1.3"/>
<circle cx="484.10" cy="201.60" r="1.9" fill="none" stroke="#0000ff" stroke-width="1.3"/>
<circle cx="487.80" cy="205.20" r="1.9" fill="none" stroke="#0000ff" stroke-width="1.3"/>
<circle cx="493.00" cy="204.20" r="1.9" fill="none" stroke="#0000ff" stroke-width="1.3"/>
<circle cx="493.00" cy="208.90" r="1.9" fill="none" stroke="#0000ff" stroke-width="1.3"/>
<circle cx="501.70" cy="206.80" r="1.9" fill="none" stroke="#0000ff" stroke-width="1.3"/>
<circle cx="513.70" cy="207.90" r="1.9" fill="none" stroke="#0000ff" stroke-width="1.3"/>
<circle cx="487.10" cy="217.80" r="1.9" fill="none" stroke="#0000ff" stroke-width="1.3"/>
<circle cx="489.40" cy="220.10" r="1.9" fill="none" stroke="#0000ff" stroke-width="1.3"/>
<circle cx="502.50" cy="216.80" r="1.9" fill="none" stroke="#0000ff" stroke-width="1.3"/>
<circle cx="517.50" cy="111.60" r="1.9" fill="none" stroke="#0000ff" stroke-width="1.3"/>
<circle cx="527.60" cy="125.00" r="1.9" fill="none" stroke="#0000ff" stroke-width="1.3"/>
<circle cx="578.40" cy="116.00" r="1.9" fill="none" stroke="#0000ff" stroke-width="1.3"/>
<circle cx="559.40" cy="120.00" r="1.9" fill="none" stroke="#0000ff" stroke-width="1.3"/>
<circle cx="579.30" cy="132.30" r="1.9" fill="none" stroke="#0000ff" stroke-width="1.3"/>
<circle cx="613.20" cy="110.20" r="1.9" fill="none" stroke="#0000ff" stroke-width="1.3"/>
<circle cx="633.40" cy="121.30" r="1.9" fill="none" stroke="#0000ff" stroke-width="1.3"/>
<circle cx="570.90" cy="147.30" r="1.9" fill="none" stroke="#0000ff" stroke-width="1.3"/>
<circle cx="583.10" cy="149.00" r="1.9" fill="none" stroke="#0000ff" stroke-width="1.3"/>
<circle cx="557.70" cy="157.10" r="1.9" fill="none" stroke="#0000ff" stroke-width="1.3"/>
<circle cx="551.70" cy="172.10" r="1.9" fill="none" stroke="#0000ff" stroke-width="1.3"/>
<circle cx="560.80" cy="173.90" r="1.9" fill="none" stroke="#0000ff" stroke-width="1.3"/>
<circle cx="550.70" cy="177.90" r="1.9" fill="none" stroke="#0000ff" stroke-width="1.3"/>
<circle cx="471.40" cy="151.90" r="1.9" fill="none" stroke="#8c8c8c" stroke-width="1.3"/>
<circle cx="473.50" cy="155.00" r="1.9" fill="none" stroke="#8c8c8c" stroke-width="1.3"/>
<circle cx="470.50" cy="166.90" r="1.9" fill="none" stroke="#8c8c8c" stroke-width="1.3"/>
<circle cx="473.70" cy="194.60" r="1.9" fill="none" stroke="#8c8c8c" stroke-width="1.3"/>
<circle cx="526.00" cy="143.30" r="1.9" fill="none" stroke="#8c8c8c" stroke-width="1.3"/>
<circle cx="540.90" cy="139.60" r="1.9" fill="none" stroke="#8c8c8c" stroke-width="1.3"/>
<circle cx="544.40" cy="148.50" r="1.9" fill="none" stroke="#8c8c8c" stroke-width="1.3"/>
<circle cx="529.70" cy="147.00" r="1.9" fill="none" stroke="#8c8c8c" stroke-width="1.3"/>
<circle cx="529.70" cy="151.50" r="1.9" fill="none" stroke="#8c8c8c" stroke-width="1.3"/>
<circle cx="538.60" cy="151.70" r="1.9" fill="none" stroke="#8c8c8c" stroke-width="1.3"/>
<circle cx="536.50" cy="154.60" r="1.9" fill="none" stroke="#8c8c8c" stroke-width="1.3"/>
<circle cx="520.00" cy="157.40" r="1.9" fill="none" stroke="#8c8c8c" stroke-width="1.3"/>
<circle cx="494.80" cy="159.00" r="1.9" fill="none" stroke="#8c8c8c" stroke-width="1.3"/>
<circle cx="497.80" cy="164.00" r="1.9" fill="none" stroke="#8c8c8c" stroke-width="1.3"/>
<circle cx="505.60" cy="164.00" r="1.9" fill="none" stroke="#8c8c8c" stroke-width="1.3"/>
<circle cx="517.70" cy="167.40" r="1.9" fill="none" stroke="#8c8c8c" stroke-width="1.3"/>
<circle cx="528.40" cy="174.20" r="1.9" fill="none" stroke="#8c8c8c" stroke-width="1.3"/>
<circle cx="498.80" cy="180.20" r="1.9" fill="none" stroke="#8c8c8c" stroke-width="1.3"/>
<circle cx="489.40" cy="182.90" r="1.9" fill="none" stroke="#8c8c8c" stroke-width="1.3"/>
<circle cx="506.70" cy="183.10" r="1.9" fill="none" stroke="#8c8c8c" stroke-width="1.3"/>
<circle cx="502.50" cy="196.90" r="1.9" fill="none" stroke="#8c8c8c" stroke-width="1.3"/>
<circle cx="506.50" cy="84.10" r="1.9" fill="none" stroke="#8c8c8c" stroke-width="1.3"/>
<circle cx="482.00" cy="92.00" r="1.9" fill="none" stroke="#8c8c8c" stroke-width="1.3"/>
<circle cx="487.00" cy="94.60" r="1.9" fill="none" stroke="#8c8c8c" stroke-width="1.3"/>
<circle cx="517.50" cy="110.60" r="1.9" fill="none" stroke="#8c8c8c" stroke-width="1.3"/>
<circle cx="500.40" cy="123.40" r="1.9" fill="none" stroke="#8c8c8c" stroke-width="1.3"/>
<circle cx="540.20" cy="104.50" r="1.9" fill="none" stroke="#8c8c8c" stroke-width="1.3"/>
<circle cx="545.10" cy="97.70" r="1.9" fill="none" stroke="#8c8c8c" stroke-width="1.3"/>
<circle cx="531.80" cy="135.50" r="1.9" fill="none" stroke="#8c8c8c" stroke-width="1.3"/>
<circle cx="517.50" cy="44.60" r="1.9" fill="none" stroke="#8c8c8c" stroke-width="1.3"/>
<circle cx="610.40" cy="36.20" r="1.9" fill="none" stroke="#8c8c8c" stroke-width="1.3"/>
<circle cx="602.30" cy="45.30" r="1.9" fill="none" stroke="#8c8c8c" stroke-width="1.3"/>
<circle cx="608.60" cy="56.10" r="1.9" fill="none" stroke="#8c8c8c" stroke-width="1.3"/>
<circle cx="595.20" cy="68.40" r="1.9" fill="none" stroke="#8c8c8c" stroke-width="1.3"/>
<circle cx="632.60" cy="17.80" r="1.9" fill="none" stroke="#8c8c8c" stroke-width="1.3"/>
<circle cx="633.60" cy="17.80" r="1.9" fill="none" stroke="#8c8c8c" stroke-width="1.3"/>
<circle cx="632.70" cy="32.80" r="1.9" fill="none" stroke="#8c8c8c" stroke-width="1.3"/>
<circle cx="616.10" cy="46.10" r="1.9" fill="none" stroke="#8c8c8c" stroke-width="1.3"/>
<circle cx="640.00" cy="45.90" r="1.9" fill="none" stroke="#8c8c8c" stroke-width="1.3"/>
<circle cx="615.10" cy="53.70" r="1.9" fill="none" stroke="#8c8c8c" stroke-width="1.3"/>
<circle cx="620.10" cy="53.70" r="1.9" fill="none" stroke="#8c8c8c" stroke-width="1.3"/>
<circle cx="633.00" cy="70.00" r="1.9" fill="none" stroke="#8c8c8c" stroke-width="1.3"/>
<circle cx="579.20" cy="72.60" r="1.9" fill="none" stroke="#8c8c8c" stroke-width="1.3"/>
<circle cx="580.40" cy="71.80" r="1.9" fill="none" stroke="#8c8c8c" stroke-width="1.3"/>
<circle cx="560.40" cy="85.90" r="1.9" fill="none" stroke="#8c8c8c" stroke-width="1.3"/>
<circle cx="592.60" cy="82.00" r="1.9" fill="none" stroke="#8c8c8c" stroke-width="1.3"/>
<circle cx="610.90" cy="83.00" r="1.9" fill="none" stroke="#8c8c8c" stroke-width="1.3"/>
<circle cx="574.30" cy="91.20" r="1.9" fill="none" stroke="#8c8c8c" stroke-width="1.3"/>
<circle cx="575.50" cy="90.20" r="1.9" fill="none" stroke="#8c8c8c" stroke-width="1.3"/>
<circle cx="580.30" cy="91.70" r="1.9" fill="none" stroke="#8c8c8c" stroke-width="1.3"/>
<circle cx="596.80" cy="93.50" r="1.9" fill="none" stroke="#8c8c8c" stroke-width="1.3"/>
<circle cx="593.10" cy="98.40" r="1.9" fill="none" stroke="#8c8c8c" stroke-width="1.3"/>
<circle cx="608.80" cy="96.70" r="1.9" fill="none" stroke="#8c8c8c" stroke-width="1.3"/>
<circle cx="613.20" cy="95.60" r="1.9" fill="none" stroke="#8c8c8c" stroke-width="1.3"/>
<circle cx="561.50" cy="100.50" r="1.9" fill="none" stroke="#8c8c8c" stroke-width="1.3"/>
<circle cx="578.40" cy="103.30" r="1.9" fill="none" stroke="#8c8c8c" stroke-width="1.3"/>
<circle cx="606.50" cy="102.40" r="1.9" fill="none" stroke="#8c8c8c" stroke-width="1.3"/>
<circle cx="590.80" cy="107.20" r="1.9" fill="none" stroke="#8c8c8c" stroke-width="1.3"/>
<circle cx="591.60" cy="105.90" r="1.9" fill="none" stroke="#8c8c8c" stroke-width="1.3"/>
<circle cx="599.90" cy="107.10" r="1.9" fill="none" stroke="#8c8c8c" stroke-width="1.3"/>
<circle cx="597.10" cy="109.80" r="1.9" fill="none" stroke="#8c8c8c" stroke-width="1.3"/>
<circle cx="606.90" cy="110.30" r="1.9" fill="none" stroke="#8c8c8c" stroke-width="1.3"/>
<circle cx="578.20" cy="110.80" r="1.9" fill="none" stroke="#8c8c8c" stroke-width="1.3"/>
<circle cx="572.40" cy="118.10" r="1.9" fill="none" stroke="#8c8c8c" stroke-width="1.3"/>
<circle cx="580.70" cy="119.70" r="1.9" fill="none" stroke="#8c8c8c" stroke-width="1.3"/>
<circle cx="559.00" cy="123.80" r="1.9" fill="none" stroke="#8c8c8c" stroke-width="1.3"/>
<circle cx="559.90" cy="123.00" r="1.9" fill="none" stroke="#8c8c8c" stroke-width="1.3"/>
<circle cx="551.70" cy="124.20" r="1.9" fill="none" stroke="#8c8c8c" stroke-width="1.3"/>
<circle cx="565.30" cy="126.00" r="1.9" fill="none" stroke="#8c8c8c" stroke-width="1.3"/>
<circle cx="574.00" cy="127.80" r="1.9" fill="none" stroke="#8c8c8c" stroke-width="1.3"/>
<circle cx="601.30" cy="127.60" r="1.9" fill="none" stroke="#8c8c8c" stroke-width="1.3"/>
<circle cx="549.60" cy="130.20" r="1.9" fill="none" stroke="#8c8c8c" stroke-width="1.3"/>
<circle cx="556.20" cy="132.00" r="1.9" fill="none" stroke="#8c8c8c" stroke-width="1.3"/>
<circle cx="552.20" cy="135.10" r="1.9" fill="none" stroke="#8c8c8c" stroke-width="1.3"/>
<circle cx="563.20" cy="134.90" r="1.9" fill="none" stroke="#8c8c8c" stroke-width="1.3"/>
<circle cx="584.20" cy="133.30" r="1.9" fill="none" stroke="#8c8c8c" stroke-width="1.3"/>
<circle cx="585.30" cy="132.30" r="1.9" fill="none" stroke="#8c8c8c" stroke-width="1.3"/>
<circle cx="624.30" cy="73.30" r="1.9" fill="none" stroke="#8c8c8c" stroke-width="1.3"/>
<circle cx="616.70" cy="77.80" r="1.9" fill="none" stroke="#8c8c8c" stroke-width="1.3"/>
<circle cx="640.40" cy="78.50" r="1.9" fill="none" stroke="#8c8c8c" stroke-width="1.3"/>
<circle cx="643.60" cy="80.20" r="1.9" fill="none" stroke="#8c8c8c" stroke-width="1.3"/>
<circle cx="622.60" cy="83.00" r="1.9" fill="none" stroke="#8c8c8c" stroke-width="1.3"/>
<circle cx="619.80" cy="86.50" r="1.9" fill="none" stroke="#8c8c8c" stroke-width="1.3"/>
<circle cx="625.40" cy="85.70" r="1.9" fill="none" stroke="#8c8c8c" stroke-width="1.3"/>
<circle cx="628.90" cy="83.60" r="1.9" fill="none" stroke="#8c8c8c" stroke-width="1.3"/>
<circle cx="633.40" cy="82.70" r="1.9" fill="none" stroke="#8c8c8c" stroke-width="1.3"/>
<circle cx="618.20" cy="95.60" r="1.9" fill="none" stroke="#8c8c8c" stroke-width="1.3"/>
<circle cx="641.10" cy="101.20" r="1.9" fill="none" stroke="#8c8c8c" stroke-width="1.3"/>
<circle cx="614.90" cy="125.70" r="1.9" fill="none" stroke="#8c8c8c" stroke-width="1.3"/>
<circle cx="625.40" cy="129.90" r="1.9" fill="none" stroke="#8c8c8c" stroke-width="1.3"/>
<circle cx="557.30" cy="147.50" r="1.9" fill="none" stroke="#8c8c8c" stroke-width="1.3"/>
<circle cx="560.40" cy="147.50" r="1.9" fill="none" stroke="#8c8c8c" stroke-width="1.3"/>
<circle cx="562.70" cy="154.30" r="1.9" fill="none" stroke="#8c8c8c" stroke-width="1.3"/>
<circle cx="556.40" cy="175.80" r="1.9" fill="none" stroke="#8c8c8c" stroke-width="1.3"/>
<circle cx="110.30" cy="478.20" r="2.2" fill="#ff0000"/>
<circle cx="133.40" cy="494.10" r="2.2" fill="#ff0000"/>
<circle cx="160.90" cy="485.40" r="2.2" fill="#ff0000"/>
<circle cx="180.50" cy="468.90" r="2.2" fill="#ff0000"/>
<circle cx="184.00" cy="484.00" r="2.2" fill="#ff0000"/>
<circle cx="103.70" cy="524.20" r="2.2" fill="#ff0000"/>
<circle cx="108.70" cy="528.30" r="2.2" fill="#ff0000"/>
<circle cx="125.20" cy="523.20" r="2.2" fill="#ff0000"/>
<circle cx="93.80" cy="537.40" r="2.2" fill="#ff0000"/>
<circle cx="105.40" cy="544.20" r="2.2" fill="#ff0000"/>
<circle cx="97.50" cy="552.50" r="2.2" fill="#ff0000"/>
<circle cx="103.70" cy="550.00" r="2.2" fill="#ff0000"/>
<circle cx="121.70" cy="538.00" r="2.2" fill="#ff0000"/>
<circle cx="126.80" cy="536.60" r="2.2" fill="#ff0000"/>
<circle cx="129.90" cy="540.10" r="2.2" fill="#ff0000"/>
<circle cx="147.90" cy="532.90" r="2.2" fill="#ff0000"/>
<circle cx="149.50" cy="535.50" r="2.2" fill="#ff0000"/>
<circle cx="202.00" cy="348.00" r="2.2" fill="#ff0000"/>
<circle cx="232.90" cy="377.90" r="2.2" fill="#ff0000"/>
<circle cx="300.00" cy="369.20" r="2.2" fill="#ff0000"/>
<circle cx="273.60" cy="411.70" r="2.2" fill="#ff0000"/>
<circle cx="200.30" cy="431.10" r="2.2" fill="#ff0000"/>
<circle cx="211.70" cy="428.00" r="2.2" fill="#ff0000"/>
<rect x="476.60" y="375.90" width="4.0" height="4.0" fill="none" stroke="#ff0000" stroke-width="1.3"/>
<rect x="488.20" y="377.20" width="4.0" height="4.0" fill="none" stroke="#ff0000" stroke-width="1.3"/>
<rect x="470.20" y="398.40" width="4.0" height="4.0" fill="none" stroke="#ff0000" stroke-width="1.3"/>
<rect x="469.60" y="428.60" width="4.0" height="4.0" fill="none" stroke="#ff0000" stroke-width="1.3"/>
<rect x="463.40" y="430.50" width="4.0" height="4.0" fill="none" stroke="#ff0000" stroke-width="1.3"/>
<rect x="497.50" y="430.60" width="4.0" height="4.0" fill="none" stroke="#ff0000" stroke-width="1.3"/>
<rect x="464.30" y="433.80" width="4.0" height="4.0" fill="none" stroke="#ff0000" stroke-width="1.3"/>
<rect x="467.70" y="436.40" width="4.0" height="4.0" fill="none" stroke="#ff0000" stroke-width="1.3"/>
<rect x="471.40" y="439.10" width="4.0" height="4.0" fill="none" stroke="#ff0000" stroke-width="1.3"/>
<rect x="455.20" y="440.10" width="4.0" height="4.0" fill="none" stroke="#ff0000" stroke-width="1.3"/>
<rect x="458.40" y="442.20" width="4.0" height="4.0" fill="none" stroke="#ff0000" stroke-width="1.3"/>
<rect x="462.40" y="444.30" width="4.0" height="4.0" fill="none" stroke="#ff0000" stroke-width="1.3"/>
<rect x="466.10" y="445.50" width="4.0" height="4.0" fill="none" stroke="#ff0000" stroke-width="1.3"/>
<rect x="470.30" y="454.30" width="4.0" height="4.0" fill="none" stroke="#ff0000" stroke-width="1.3"/>
<rect x="468.50" y="459.30" width="4.0" height="4.0" fill="none" stroke="#ff0000" stroke-width="1.3"/>
<rect x="469.20" y="457.20" width="4.0" height="4.0" fill="none" stroke="#ff0000" stroke-width="1.3"/>
<rect x="462.80" y="463.60" width="4.0" height="4.0" fill="none" stroke="#ff0000" stroke-width="1.3"/>
<rect x="454.00" y="465.30" width="4.0" height="4.0" fill="none" stroke="#ff0000" stroke-width="1.3"/>
<rect x="466.60" y="468.00" width="4.0" height="4.0" fill="none" stroke="#ff0000" stroke-width="1.3"/>
<rect x="464.30" y="474.20" width="4.0" height="4.0" fill="none" stroke="#ff0000" stroke-width="1.3"/>
<rect x="465.70" y="476.60" width="4.0" height="4.0" fill="none" stroke="#ff0000" stroke-width="1.3"/>
<rect x="455.60" y="477.70" width="4.0" height="4.0" fill="none" stroke="#ff0000" stroke-width="1.3"/>
<rect x="454.50" y="485.30" width="4.0" height="4.0" fill="none" stroke="#ff0000" stroke-width="1.3"/>
<rect x="460.10" y="485.30" width="4.0" height="4.0" fill="none" stroke="#ff0000" stroke-width="1.3"/>
<rect x="451.40" y="490.60" width="4.0" height="4.0" fill="none" stroke="#ff0000" stroke-width="1.3"/>
<rect x="454.90" y="491.30" width="4.0" height="4.0" fill="none" stroke="#ff0000" stroke-width="1.3"/>
<rect x="445.10" y="493.70" width="4.0" height="4.0" fill="none" stroke="#ff0000" stroke-width="1.3"/>
<rect x="450.30" y="496.20" width="4.0" height="4.0" fill="none" stroke="#ff0000" stroke-width="1.3"/>
<rect x="454.90" y="495.80" width="4.0" height="4.0" fill="none" stroke="#ff0000" stroke-width="1.3"/>
<rect x="446.90" y="498.30" width="4.0" height="4.0" fill="none" stroke="#ff0000" stroke-width="1.3"/>
<rect x="470.50" y="495.50" width="4.0" height="4.0" fill="none" stroke="#ff0000" stroke-width="1.3"/>
<rect x="451.30" y="504.60" width="4.0" height="4.0" fill="none" stroke="#ff0000" stroke-width="1.3"/>
<rect x="454.40" y="517.70" width="4.0" height="4.0" fill="none" stroke="#ff0000" stroke-width="1.3"/>
<rect x="451.60" y="522.90" width="4.0" height="4.0" fill="none" stroke="#ff0000" stroke-width="1.3"/>
<rect x="447.00" y="521.50" width="4.0" height="4.0" fill="none" stroke="#ff0000" stroke-width="1.3"/>
<rect x="439.40" y="525.30" width="4.0" height="4.0" fill="none" stroke="#ff0000" stroke-width="1.3"/>
<rect x="448.40" y="530.90" width="4.0" height="4.0" fill="none" stroke="#ff0000" stroke-width="1.3"/>
<rect x="434.10" y="533.70" width="4.0" height="4.0" fill="none" stroke="#ff0000" stroke-width="1.3"/>
<rect x="433.80" y="536.50" width="4.0" height="4.0" fill="none" stroke="#ff0000" stroke-width="1.3"/>
<rect x="505.40" y="444.40" width="4.0" height="4.0" fill="none" stroke="#ff0000" stroke-width="1.3"/>
<rect x="475.50" y="459.40" width="4.0" height="4.0" fill="none" stroke="#ff0000" stroke-width="1.3"/>
<rect x="489.10" y="475.30" width="4.0" height="4.0" fill="none" stroke="#ff0000" stroke-width="1.3"/>
<rect x="491.20" y="479.50" width="4.0" height="4.0" fill="none" stroke="#ff0000" stroke-width="1.3"/>
<rect x="486.50" y="483.20" width="4.0" height="4.0" fill="none" stroke="#ff0000" stroke-width="1.3"/>
<rect x="478.50" y="486.30" width="4.0" height="4.0" fill="none" stroke="#ff0000" stroke-width="1.3"/>
<rect x="494.70" y="502.20" width="4.0" height="4.0" fill="none" stroke="#ff0000" stroke-width="1.3"/>
<rect x="495.10" y="504.30" width="4.0" height="4.0" fill="none" stroke="#ff0000" stroke-width="1.3"/>
<rect x="509.00" y="503.40" width="4.0" height="4.0" fill="none" stroke="#ff0000" stroke-width="1.3"/>
<rect x="571.40" y="495.30" width="4.0" height="4.0" fill="none" stroke="#ff0000" stroke-width="1.3"/>
<rect x="465.70" y="445.50" width="4.0" height="4.0" fill="none" stroke="#0000ff" stroke-width="1.3"/>
<rect x="455.20" y="451.30" width="4.0" height="4.0" fill="none" stroke="#0000ff" stroke-width="1.3"/>
<rect x="465.40" y="458.30" width="4.0" height="4.0" fill="none" stroke="#0000ff" stroke-width="1.3"/>
<rect x="465.70" y="459.50" width="4.0" height="4.0" fill="none" stroke="#0000ff" stroke-width="1.3"/>
<rect x="461.50" y="466.70" width="4.0" height="4.0" fill="none" stroke="#0000ff" stroke-width="1.3"/>
<rect x="461.90" y="469.60" width="4.0" height="4.0" fill="none" stroke="#0000ff" stroke-width="1.3"/>
<rect x="468.50" y="474.20" width="4.0" height="4.0" fill="none" stroke="#0000ff" stroke-width="1.3"/>
<rect x="453.80" y="477.30" width="4.0" height="4.0" fill="none" stroke="#0000ff" stroke-width="1.3"/>
<rect x="457.30" y="477.70" width="4.0" height="4.0" fill="none" stroke="#0000ff" stroke-width="1.3"/>
<rect x="455.90" y="483.30" width="4.0" height="4.0" fill="none" stroke="#0000ff" stroke-width="1.3"/>
<rect x="460.10" y="482.60" width="4.0" height="4.0" fill="none" stroke="#0000ff" stroke-width="1.3"/>
<rect x="465.40" y="485.00" width="4.0" height="4.0" fill="none" stroke="#0000ff" stroke-width="1.3"/>
<rect x="459.80" y="488.50" width="4.0" height="4.0" fill="none" stroke="#0000ff" stroke-width="1.3"/>
<rect x="458.00" y="491.30" width="4.0" height="4.0" fill="none" stroke="#0000ff" stroke-width="1.3"/>
<rect x="459.80" y="495.10" width="4.0" height="4.0" fill="none" stroke="#0000ff" stroke-width="1.3"/>
<rect x="463.60" y="495.10" width="4.0" height="4.0" fill="none" stroke="#0000ff" stroke-width="1.3"/>
<rect x="466.10" y="499.30" width="4.0" height="4.0" fill="none" stroke="#0000ff" stroke-width="1.3"/>
<rect x="457.30" y="501.10" width="4.0" height="4.0" fill="none" stroke="#0000ff" stroke-width="1.3"/>
<rect x="461.50" y="501.10" width="4.0" height="4.0" fill="none" stroke="#0000ff" stroke-width="1.3"/>
<rect x="450.30" y="501.80" width="4.0" height="4.0" fill="none" stroke="#0000ff" stroke-width="1.3"/>
<rect x="449.00" y="504.20" width="4.0" height="4.0" fill="none" stroke="#0000ff" stroke-width="1.3"/>
<rect x="457.00" y="504.90" width="4.0" height="4.0" fill="none" stroke="#0000ff" stroke-width="1.3"/>
<rect x="462.20" y="504.90" width="4.0" height="4.0" fill="none" stroke="#0000ff" stroke-width="1.3"/>
<rect x="465.70" y="507.40" width="4.0" height="4.0" fill="none" stroke="#0000ff" stroke-width="1.3"/>
<rect x="442.50" y="510.00" width="4.0" height="4.0" fill="none" stroke="#0000ff" stroke-width="1.3"/>
<rect x="442.50" y="513.80" width="4.0" height="4.0" fill="none" stroke="#0000ff" stroke-width="1.3"/>
<rect x="450.50" y="513.50" width="4.0" height="4.0" fill="none" stroke="#0000ff" stroke-width="1.3"/>
<rect x="456.10" y="508.60" width="4.0" height="4.0" fill="none" stroke="#0000ff" stroke-width="1.3"/>
<rect x="461.70" y="508.20" width="4.0" height="4.0" fill="none" stroke="#0000ff" stroke-width="1.3"/>
<rect x="458.20" y="512.40" width="4.0" height="4.0" fill="none" stroke="#0000ff" stroke-width="1.3"/>
<rect x="461.00" y="512.40" width="4.0" height="4.0" fill="none" stroke="#0000ff" stroke-width="1.3"/>
<rect x="462.80" y="515.60" width="4.0" height="4.0" fill="none" stroke="#0000ff" stroke-width="1.3"/>
<rect x="462.40" y="518.70" width="4.0" height="4.0" fill="none" stroke="#0000ff" stroke-width="1.3"/>
<rect x="447.00" y="517.30" width="4.0" height="4.0" fill="none" stroke="#0000ff" stroke-width="1.3"/>
<rect x="442.90" y="519.80" width="4.0" height="4.0" fill="none" stroke="#0000ff" stroke-width="1.3"/>
<rect x="443.20" y="522.90" width="4.0" height="4.0" fill="none" stroke="#0000ff" stroke-width="1.3"/>
<rect x="452.60" y="527.40" width="4.0" height="4.0" fill="none" stroke="#0000ff" stroke-width="1.3"/>
<rect x="439.70" y="534.40" width="4.0" height="4.0" fill="none" stroke="#0000ff" stroke-width="1.3"/>
<rect x="444.60" y="535.50" width="4.0" height="4.0" fill="none" stroke="#0000ff" stroke-width="1.3"/>
<rect x="471.80" y="478.30" width="4.0" height="4.0" fill="none" stroke="#0000ff" stroke-width="1.3"/>
<rect x="471.00" y="481.60" width="4.0" height="4.0" fill="none" stroke="#0000ff" stroke-width="1.3"/>
<rect x="474.10" y="487.40" width="4.0" height="4.0" fill="none" stroke="#0000ff" stroke-width="1.3"/>
<rect x="476.60" y="497.70" width="4.0" height="4.0" fill="none" stroke="#0000ff" stroke-width="1.3"/>
<rect x="475.20" y="495.60" width="4.0" height="4.0" fill="none" stroke="#0000ff" stroke-width="1.3"/>
<rect x="478.30" y="510.70" width="4.0" height="4.0" fill="none" stroke="#0000ff" stroke-width="1.3"/>
<rect x="475.20" y="522.00" width="4.0" height="4.0" fill="none" stroke="#0000ff" stroke-width="1.3"/>
<rect x="493.30" y="521.60" width="4.0" height="4.0" fill="none" stroke="#0000ff" stroke-width="1.3"/>
<path d="M498.50 482.00L501.20 484.70L498.50 487.40L495.80 484.70Z" fill="none" stroke="#ff0000" stroke-width="1.2"/>
<path d="M485.20 492.40L487.90 495.10L485.20 497.80L482.50 495.10Z" fill="none" stroke="#ff0000" stroke-width="1.2"/>
<path d="M493.90 492.80L496.60 495.50L493.90 498.20L491.20 495.50Z" fill="none" stroke="#ff0000" stroke-width="1.2"/>
<path d="M476.80 496.60L479.50 499.30L476.80 502.00L474.10 499.30Z" fill="none" stroke="#ff0000" stroke-width="1.2"/>
<path d="M476.50 502.60L479.20 505.30L476.50 508.00L473.80 505.30Z" fill="none" stroke="#ff0000" stroke-width="1.2"/>
<path d="M493.90 513.20L496.60 515.90L493.90 518.60L491.20 515.90Z" fill="none" stroke="#ff0000" stroke-width="1.2"/>
<path d="M480.80 517.10L483.50 519.80L480.80 522.50L478.10 519.80Z" fill="none" stroke="#ff0000" stroke-width="1.2"/>
<path d="M476.50 530.30L479.20 533.00L476.50 535.70L473.80 533.00Z" fill="none" stroke="#ff0000" stroke-width="1.2"/>
<path d="M476.10 537.00L478.80 539.70L476.10 542.40L473.40 539.70Z" fill="none" stroke="#ff0000" stroke-width="1.2"/>
<path d="M493.60 538.00L496.30 540.70L493.60 543.40L490.90 540.70Z" fill="none" stroke="#ff0000" stroke-width="1.2"/>
<path d="M480.80 544.30L483.50 547.00L480.80 549.70L478.10 547.00Z" fill="none" stroke="#ff0000" stroke-width="1.2"/>
<path d="M520.10 487.20L522.80 489.90L520.10 492.60L517.40 489.90Z" fill="none" stroke="#ff0000" stroke-width="1.2"/>
<path d="M537.50 510.50L540.20 513.20L537.50 515.90L534.80 513.20Z" fill="none" stroke="#ff0000" stroke-width="1.2"/>
<path d="M528.90 529.50L531.60 532.20L528.90 534.90L526.20 532.20Z" fill="none" stroke="#ff0000" stroke-width="1.2"/>
<path d="M550.90 499.70L553.60 502.40L550.90 505.10L548.20 502.40Z" fill="none" stroke="#ff0000" stroke-width="1.2"/>
<path d="M559.30 500.00L562.00 502.70L559.30 505.40L556.60 502.70Z" fill="none" stroke="#ff0000" stroke-width="1.2"/>
<path d="M568.00 538.60L570.70 541.30L568.00 544.00L565.30 541.30Z" fill="none" stroke="#ff0000" stroke-width="1.2"/>
<path d="M594.10 516.80L596.80 519.50L594.10 522.20L591.40 519.50Z" fill="none" stroke="#ff0000" stroke-width="1.2"/>
<path d="M598.60 536.50L601.30 539.20L598.60 541.90L595.90 539.20Z" fill="none" stroke="#ff0000" stroke-width="1.2"/>
<path d="M611.40 533.60L614.10 536.30L611.40 539.00L608.70 536.30Z" fill="none" stroke="#ff0000" stroke-width="1.2"/>
<path d="M493.90 487.70L496.60 490.40L493.90 493.10L491.20 490.40Z" fill="none" stroke="#0000ff" stroke-width="1.2"/>
<path d="M485.40 520.90L488.10 523.60L485.40 526.30L482.70 523.60Z" fill="none" stroke="#0000ff" stroke-width="1.2"/>
<path d="M502.70 522.30L505.40 525.00L502.70 527.70L500.00 525.00Z" fill="none" stroke="#0000ff" stroke-width="1.2"/>
<path d="M498.10 527.20L500.80 529.90L498.10 532.60L495.40 529.90Z" fill="none" stroke="#0000ff" stroke-width="1.2"/>
<path d="M489.70 530.00L492.40 532.70L489.70 535.40L487.00 532.70Z" fill="none" stroke="#0000ff" stroke-width="1.2"/>
<path d="M480.80 537.30L483.50 540.00L480.80 542.70L478.10 540.00Z" fill="none" stroke="#0000ff" stroke-width="1.2"/>
<path d="M489.70 540.80L492.40 543.50L489.70 546.20L487.00 543.50Z" fill="none" stroke="#0000ff" stroke-width="1.2"/>
<path d="M515.80 518.70L518.50 521.40L515.80 524.10L513.10 521.40Z" fill="none" stroke="#0000ff" stroke-width="1.2"/>
<path d="M515.80 521.90L518.50 524.60L515.80 527.30L513.10 524.60Z" fill="none" stroke="#0000ff" stroke-width="1.2"/>
<path d="M515.40 527.10L518.10 529.80L515.40 532.50L512.70 529.80Z" fill="none" stroke="#0000ff" stroke-width="1.2"/>
<path d="M546.20 524.80L548.90 527.50L546.20 530.20L543.50 527.50Z" fill="none" stroke="#0000ff" stroke-width="1.2"/>
<path d="M546.20 533.40L548.90 536.10L546.20 538.80L543.50 536.10Z" fill="none" stroke="#0000ff" stroke-width="1.2"/>
<path d="M549.50 525.70L552.20 528.40L549.50 531.10L546.80 528.40Z" fill="none" stroke="#0000ff" stroke-width="1.2"/>
<path d="M528.60 549.60L531.30 552.30L528.60 555.00L525.90 552.30Z" fill="none" stroke="#0000ff" stroke-width="1.2"/>
<path d="M620.30 515.40L623.00 518.10L620.30 520.80L617.60 518.10Z" fill="none" stroke="#0000ff" stroke-width="1.2"/>
<circle cx="480.50" cy="524.70" r="1.6" fill="none" stroke="#ff0000" stroke-width="1.3"/>
<circle cx="472.60" cy="532.00" r="1.6" fill="none" stroke="#ff0000" stroke-width="1.3"/>
<circle cx="487.00" cy="534.10" r="1.6" fill="none" stroke="#ff0000" stroke-width="1.3"/>
<circle cx="492.90" cy="535.50" r="1.6" fill="none" stroke="#ff0000" stroke-width="1.3"/>
<circle cx="471.20" cy="542.50" r="1.6" fill="none" stroke="#ff0000" stroke-width="1.3"/>
<circle cx="505.50" cy="543.20" r="1.6" fill="none" stroke="#ff0000" stroke-width="1.3"/>
<circle cx="522.40" cy="527.70" r="1.6" fill="none" stroke="#ff0000" stroke-width="1.3"/>
<circle cx="515.80" cy="529.10" r="1.6" fill="none" stroke="#ff0000" stroke-width="1.3"/>
<circle cx="517.90" cy="529.40" r="1.6" fill="none" stroke="#ff0000" stroke-width="1.3"/>
<circle cx="505.00" cy="499.50" r="1.6" fill="none" stroke="#0000ff" stroke-width="1.3"/>
<circle cx="476.10" cy="506.30" r="1.6" fill="none" stroke="#0000ff" stroke-width="1.3"/>
<circle cx="473.00" cy="529.90" r="1.6" fill="none" stroke="#0000ff" stroke-width="1.3"/>
<circle cx="509.00" cy="532.70" r="1.6" fill="none" stroke="#0000ff" stroke-width="1.3"/>
<circle cx="537.60" cy="476.80" r="1.6" fill="none" stroke="#0000ff" stroke-width="1.3"/>
<circle cx="547.60" cy="476.30" r="1.6" fill="none" stroke="#0000ff" stroke-width="1.3"/>
<circle cx="544.10" cy="482.20" r="1.6" fill="none" stroke="#0000ff" stroke-width="1.3"/>
<circle cx="543.40" cy="484.30" r="1.6" fill="none" stroke="#0000ff" stroke-width="1.3"/>
<circle cx="542.30" cy="488.70" r="1.6" fill="none" stroke="#0000ff" stroke-width="1.3"/>
<circle cx="532.00" cy="489.70" r="1.6" fill="none" stroke="#0000ff" stroke-width="1.3"/>
<circle cx="535.00" cy="494.80" r="1.6" fill="none" stroke="#0000ff" stroke-width="1.3"/>
<circle cx="538.50" cy="492.70" r="1.6" fill="none" stroke="#0000ff" stroke-width="1.3"/>
<circle cx="541.60" cy="493.40" r="1.6" fill="none" stroke="#0000ff" stroke-width="1.3"/>
<circle cx="544.40" cy="493.00" r="1.6" fill="none" stroke="#0000ff" stroke-width="1.3"/>
<circle cx="547.90" cy="494.40" r="1.6" fill="none" stroke="#0000ff" stroke-width="1.3"/>
<circle cx="536.70" cy="497.60" r="1.6" fill="none" stroke="#0000ff" stroke-width="1.3"/>
<circle cx="540.20" cy="496.50" r="1.6" fill="none" stroke="#0000ff" stroke-width="1.3"/>
<circle cx="543.40" cy="495.80" r="1.6" fill="none" stroke="#0000ff" stroke-width="1.3"/>
<circle cx="545.80" cy="497.60" r="1.6" fill="none" stroke="#0000ff" stroke-width="1.3"/>
<circle cx="548.60" cy="498.30" r="1.6" fill="none" stroke="#0000ff" stroke-width="1.3"/>
<circle cx="539.90" cy="501.40" r="1.6" fill="none" stroke="#0000ff" stroke-width="1.3"/>
<circle cx="542.70" cy="499.00" r="1.6" fill="none" stroke="#0000ff" stroke-width="1.3"/>
<circle cx="542.30" cy="502.80" r="1.6" fill="none" stroke="#0000ff" stroke-width="1.3"/>
<circle cx="545.10" cy="504.20" r="1.6" fill="none" stroke="#0000ff" stroke-width="1.3"/>
<circle cx="547.60" cy="502.50" r="1.6" fill="none" stroke="#0000ff" stroke-width="1.3"/>
<circle cx="519.60" cy="507.40" r="1.6" fill="none" stroke="#0000ff" stroke-width="1.3"/>
<circle cx="531.00" cy="506.30" r="1.6" fill="none" stroke="#0000ff" stroke-width="1.3"/>
<circle cx="525.90" cy="511.20" r="1.6" fill="none" stroke="#0000ff" stroke-width="1.3"/>
<circle cx="544.10" cy="510.40" r="1.6" fill="none" stroke="#0000ff" stroke-width="1.3"/>
<circle cx="546.50" cy="509.80" r="1.6" fill="none" stroke="#0000ff" stroke-width="1.3"/>
<circle cx="563.10" cy="471.60" r="1.6" fill="none" stroke="#0000ff" stroke-width="1.3"/>
<circle cx="569.90" cy="483.30" r="1.6" fill="none" stroke="#0000ff" stroke-width="1.3"/>
<circle cx="556.30" cy="487.20" r="1.6" fill="none" stroke="#0000ff" stroke-width="1.3"/>
<circle cx="560.00" cy="487.90" r="1.6" fill="none" stroke="#0000ff" stroke-width="1.3"/>
<circle cx="559.30" cy="491.40" r="1.6" fill="none" stroke="#0000ff" stroke-width="1.3"/>
<circle cx="562.20" cy="492.60" r="1.6" fill="none" stroke="#0000ff" stroke-width="1.3"/>
<circle cx="565.90" cy="494.90" r="1.6" fill="none" stroke="#0000ff" stroke-width="1.3"/>
<circle cx="555.80" cy="495.40" r="1.6" fill="none" stroke="#0000ff" stroke-width="1.3"/>
<circle cx="552.30" cy="494.20" r="1.6" fill="none" stroke="#0000ff" stroke-width="1.3"/>
<circle cx="550.20" cy="496.40" r="1.6" fill="none" stroke="#0000ff" stroke-width="1.3"/>
<circle cx="560.70" cy="504.80" r="1.6" fill="none" stroke="#0000ff" stroke-width="1.3"/>
<circle cx="566.10" cy="505.50" r="1.6" fill="none" stroke="#0000ff" stroke-width="1.3"/>
<circle cx="571.70" cy="505.40" r="1.6" fill="none" stroke="#0000ff" stroke-width="1.3"/>
<circle cx="587.90" cy="496.80" r="1.6" fill="none" stroke="#0000ff" stroke-width="1.3"/>
<circle cx="580.60" cy="501.70" r="1.6" fill="none" stroke="#0000ff" stroke-width="1.3"/>
<circle cx="582.00" cy="503.10" r="1.6" fill="none" stroke="#0000ff" stroke-width="1.3"/>
<circle cx="583.00" cy="504.10" r="1.6" fill="none" stroke="#0000ff" stroke-width="1.3"/>
<circle cx="555.10" cy="509.50" r="1.6" fill="none" stroke="#0000ff" stroke-width="1.3"/>
<circle cx="580.80" cy="512.50" r="1.6" fill="none" stroke="#0000ff" stroke-width="1.3"/>
<circle cx="527.00" cy="535.70" r="1.6" fill="none" stroke="#0000ff" stroke-width="1.3"/>
<rect x="67.20" y="5.30" width="261.40" height="260.80" fill="none" stroke="#1a1a1a" stroke-width="1.3"/>
<text x="66.90" y="290.90" text-anchor="middle" class="tk">0.0</text>
<text x="110.52" y="290.90" text-anchor="middle" class="tk">0.1</text>
<text x="154.13" y="290.90" text-anchor="middle" class="tk">0.2</text>
<text x="197.75" y="290.90" text-anchor="middle" class="tk">0.3</text>
<text x="241.37" y="290.90" text-anchor="middle" class="tk">0.4</text>
<text x="284.98" y="290.90" text-anchor="middle" class="tk">0.5</text>
<text x="328.60" y="290.90" text-anchor="middle" class="tk">0.6</text>
<text x="53.70" y="270.50" text-anchor="end" class="tk">0.00</text>
<text x="53.70" y="227.03" text-anchor="end" class="tk">0.01</text>
<text x="53.70" y="183.57" text-anchor="end" class="tk">0.02</text>
<text x="53.70" y="140.10" text-anchor="end" class="tk">0.03</text>
<text x="53.70" y="96.63" text-anchor="end" class="tk">0.04</text>
<text x="53.70" y="53.17" text-anchor="end" class="tk">0.05</text>
<text x="53.70" y="9.70" text-anchor="end" class="tk">0.06</text>
<path d="M66.90 266.10V273.10M110.52 266.10V273.10M154.13 266.10V273.10M197.75 266.10V273.10M241.37 266.10V273.10M284.98 266.10V273.10M328.60 266.10V273.10M59.90 266.10H66.90M59.90 222.63H66.90M59.90 179.17H66.90M59.90 135.70H66.90M59.90 92.23H66.90M59.90 48.77H66.90M59.90 5.30H66.90" stroke="#1a1a1a" stroke-width="1.3" fill="none"/>
<rect x="415.50" y="5.30" width="261.30" height="260.80" fill="none" stroke="#1a1a1a" stroke-width="1.3"/>
<text x="415.50" y="290.90" text-anchor="middle" class="tk">0.0</text>
<text x="459.05" y="290.90" text-anchor="middle" class="tk">0.1</text>
<text x="502.60" y="290.90" text-anchor="middle" class="tk">0.2</text>
<text x="546.15" y="290.90" text-anchor="middle" class="tk">0.3</text>
<text x="589.70" y="290.90" text-anchor="middle" class="tk">0.4</text>
<text x="633.25" y="290.90" text-anchor="middle" class="tk">0.5</text>
<text x="676.80" y="290.90" text-anchor="middle" class="tk">0.6</text>
<text x="402.30" y="270.50" text-anchor="end" class="tk">0</text>
<text x="402.30" y="237.90" text-anchor="end" class="tk">5</text>
<text x="402.30" y="205.30" text-anchor="end" class="tk">10</text>
<text x="402.30" y="172.70" text-anchor="end" class="tk">15</text>
<text x="402.30" y="140.10" text-anchor="end" class="tk">20</text>
<text x="402.30" y="107.50" text-anchor="end" class="tk">25</text>
<text x="402.30" y="74.90" text-anchor="end" class="tk">30</text>
<text x="402.30" y="42.30" text-anchor="end" class="tk">35</text>
<text x="402.30" y="9.70" text-anchor="end" class="tk">40</text>
<path d="M415.50 266.10V273.10M459.05 266.10V273.10M502.60 266.10V273.10M546.15 266.10V273.10M589.70 266.10V273.10M633.25 266.10V273.10M676.80 266.10V273.10M408.50 266.10H415.50M408.50 233.50H415.50M408.50 200.90H415.50M408.50 168.30H415.50M408.50 135.70H415.50M408.50 103.10H415.50M408.50 70.50H415.50M408.50 37.90H415.50M408.50 5.30H415.50" stroke="#1a1a1a" stroke-width="1.3" fill="none"/>
<rect x="67.20" y="309.40" width="261.40" height="261.10" fill="none" stroke="#1a1a1a" stroke-width="1.3"/>
<text x="66.90" y="595.30" text-anchor="middle" class="tk">0.0</text>
<text x="99.61" y="595.30" text-anchor="middle" class="tk">0.2</text>
<text x="132.33" y="595.30" text-anchor="middle" class="tk">0.4</text>
<text x="165.04" y="595.30" text-anchor="middle" class="tk">0.6</text>
<text x="197.75" y="595.30" text-anchor="middle" class="tk">0.8</text>
<text x="230.46" y="595.30" text-anchor="middle" class="tk">1.0</text>
<text x="263.18" y="595.30" text-anchor="middle" class="tk">1.2</text>
<text x="295.89" y="595.30" text-anchor="middle" class="tk">1.4</text>
<text x="328.60" y="595.30" text-anchor="middle" class="tk">1.6</text>
<text x="53.70" y="574.90" text-anchor="end" class="tk">0</text>
<text x="53.70" y="542.26" text-anchor="end" class="tk">5</text>
<text x="53.70" y="509.62" text-anchor="end" class="tk">10</text>
<text x="53.70" y="476.99" text-anchor="end" class="tk">15</text>
<text x="53.70" y="444.35" text-anchor="end" class="tk">20</text>
<text x="53.70" y="411.71" text-anchor="end" class="tk">25</text>
<text x="53.70" y="379.07" text-anchor="end" class="tk">30</text>
<text x="53.70" y="346.44" text-anchor="end" class="tk">35</text>
<text x="53.70" y="313.80" text-anchor="end" class="tk">40</text>
<path d="M66.90 570.50V577.50M99.61 570.50V577.50M132.33 570.50V577.50M165.04 570.50V577.50M197.75 570.50V577.50M230.46 570.50V577.50M263.18 570.50V577.50M295.89 570.50V577.50M328.60 570.50V577.50M59.90 570.50H66.90M59.90 537.86H66.90M59.90 505.23H66.90M59.90 472.59H66.90M59.90 439.95H66.90M59.90 407.31H66.90M59.90 374.67H66.90M59.90 342.04H66.90M59.90 309.40H66.90" stroke="#1a1a1a" stroke-width="1.3" fill="none"/>
<rect x="415.50" y="309.40" width="261.30" height="261.10" fill="none" stroke="#1a1a1a" stroke-width="1.3"/>
<text x="415.50" y="595.30" text-anchor="middle" class="tk">0.0</text>
<text x="459.05" y="595.30" text-anchor="middle" class="tk">0.1</text>
<text x="502.60" y="595.30" text-anchor="middle" class="tk">0.2</text>
<text x="546.15" y="595.30" text-anchor="middle" class="tk">0.3</text>
<text x="589.70" y="595.30" text-anchor="middle" class="tk">0.4</text>
<text x="633.25" y="595.30" text-anchor="middle" class="tk">0.5</text>
<text x="676.80" y="595.30" text-anchor="middle" class="tk">0.6</text>
<text x="402.30" y="574.90" text-anchor="end" class="tk">0</text>
<text x="402.30" y="542.26" text-anchor="end" class="tk">5</text>
<text x="402.30" y="509.62" text-anchor="end" class="tk">10</text>
<text x="402.30" y="476.99" text-anchor="end" class="tk">15</text>
<text x="402.30" y="444.35" text-anchor="end" class="tk">20</text>
<text x="402.30" y="411.71" text-anchor="end" class="tk">25</text>
<text x="402.30" y="379.07" text-anchor="end" class="tk">30</text>
<text x="402.30" y="346.44" text-anchor="end" class="tk">35</text>
<text x="402.30" y="313.80" text-anchor="end" class="tk">40</text>
<path d="M415.50 570.50V577.50M459.05 570.50V577.50M502.60 570.50V577.50M546.15 570.50V577.50M589.70 570.50V577.50M633.25 570.50V577.50M676.80 570.50V577.50M408.50 570.50H415.50M408.50 537.86H415.50M408.50 505.23H415.50M408.50 472.59H415.50M408.50 439.95H415.50M408.50 407.31H415.50M408.50 374.67H415.50M408.50 342.04H415.50M408.50 309.40H415.50" stroke="#1a1a1a" stroke-width="1.3" fill="none"/>
<text transform="translate(12.3 136) rotate(-90)" text-anchor="middle" class="lab">TN (%)</text>
<text transform="translate(371.3 136.0) rotate(-90)" text-anchor="middle" class="lab" style="font-size:17.0px">Biogenic opal (%)</text>
<text transform="translate(22.9 440.1) rotate(-90)" text-anchor="middle" class="lab" style="font-size:17.0px">Biogenic opal (%)</text>
<text transform="translate(371.3 440.1) rotate(-90)" text-anchor="middle" class="lab" style="font-size:17.0px">Biogenic opal (%)</text>
<text x="197.8" y="626.3" text-anchor="middle" class="lab">TOC (%)</text>
<text x="546.2" y="626.3" text-anchor="middle" class="lab">TOC (%)</text>
<text x="297.95" y="253.20" class="pl">(a)</text>
<text x="648.20" y="253.20" class="pl">(b)</text>
<text x="298.90" y="560.20" class="pl">(c)</text>
<text x="647.95" y="559.00" class="pl">(d)</text>
</svg></body></html>
